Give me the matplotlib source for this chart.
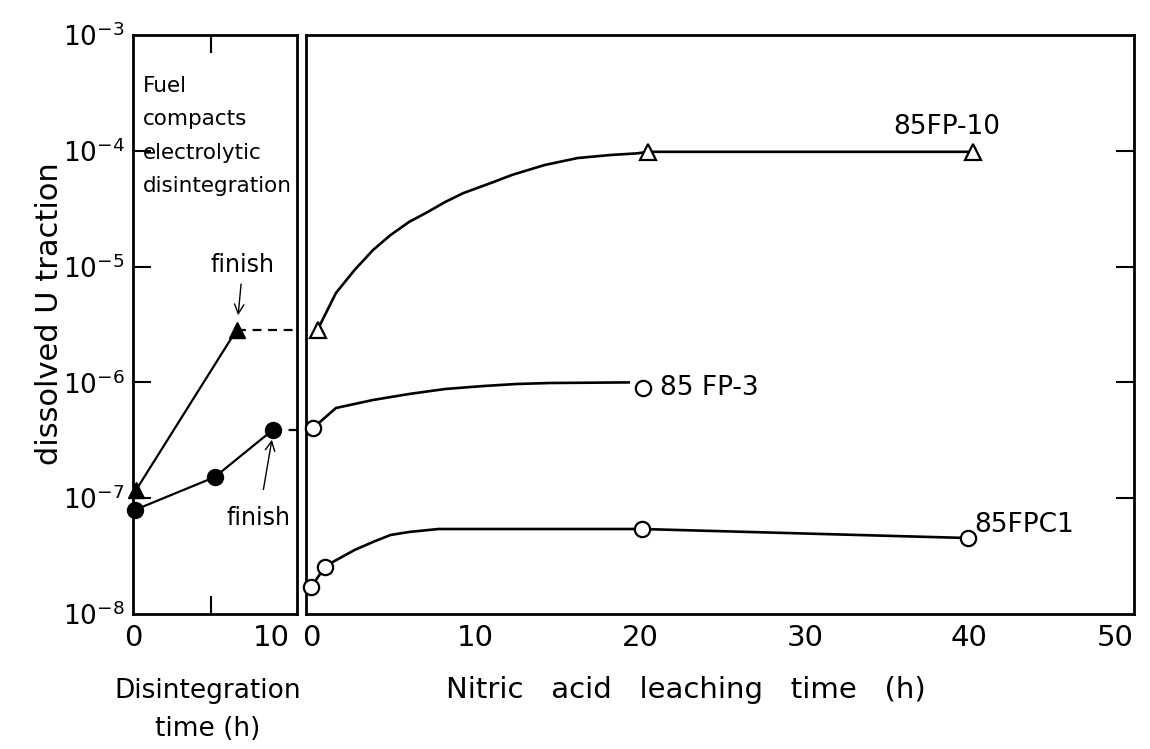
import matplotlib
matplotlib.use("Agg")
import matplotlib.pyplot as plt

plt.rcParams['font.family'] = ['Liberation Sans Narrow', 'DejaVu Sans']

# left panel: electrolytic disintegration (filled symbols)
dis_fp10_t = [0.2, 6.6]
dis_fp10_u = [1.18e-7, 2.84e-6]
dis_fp3_t = [0.1, 5.2, 8.9]
dis_fp3_u = [7.9e-8, 1.52e-7, 3.88e-7]

# right panel: nitric acid leaching (open symbols)
fp10_t = [0.4, 20.5, 40.2]
fp10_u = [2.84e-6, 9.8e-5, 9.8e-5]
fp3_t = [0.13, 20.2]
fp3_u = [4.04e-7, 8.95e-7]
fpc1_t = [0.0, 0.86, 20.1, 39.9]
fpc1_u = [1.71e-8, 2.55e-8, 5.42e-8, 4.53e-8]

# hand drawn guide curves
fp10_curve_t = [0.4, 1.52, 2.65, 3.77, 4.83, 5.96, 7.09, 8.15, 9.27, 11.1, 12.2, 14.2,
                16.2, 18.2, 19.8, 20.5, 40.2]
fp10_curve_u = [2.84e-6, 5.92e-6, 9.35e-6, 1.39e-5, 1.87e-5, 2.43e-5, 2.96e-5, 3.61e-5,
                4.32e-5, 5.38e-5, 6.18e-5, 7.54e-5, 8.66e-5, 9.2e-5, 9.5e-5, 9.8e-5, 9.8e-5]
fp3_curve_t = [0.13, 1.52, 3.77, 5.96, 8.15, 10.5, 12.5, 14.5, 19.3]
fp3_curve_u = [4.04e-7, 6.01e-7, 7.05e-7, 7.94e-7, 8.77e-7, 9.31e-7, 9.69e-7,
               9.88e-7, 1.0e-6]
fpc1_curve_t = [0.0, 0.86, 1.32, 2.65, 3.77, 4.83, 5.96, 7.75, 9.27, 12.5, 20.1, 39.9]
fpc1_curve_u = [1.71e-8, 2.55e-8, 2.81e-8, 3.57e-8, 4.19e-8, 4.81e-8, 5.11e-8, 5.42e-8,
                5.42e-8, 5.42e-8, 5.42e-8, 4.53e-8]

decades = [1e-8, 1e-7, 1e-6, 1e-5, 1e-4, 1e-3]
decade_labels = ['$10^{-8}$', '$10^{-7}$', '$10^{-6}$', '$10^{-5}$', '$10^{-4}$', '$10^{-3}$']

fig = plt.figure(figsize=(11.5, 7.49), dpi=100)
W, H = 1150.0, 749.0
top, bottom = 35, 614
ax1 = fig.add_axes([133 / W, (H - bottom) / H, 164 / W, (bottom - top) / H])
ax2 = fig.add_axes([306 / W, (H - bottom) / H, 828 / W, (bottom - top) / H])

for ax in (ax1, ax2):
    ax.set_yscale('log')
    ax.set_ylim(1e-8, 1e-3)
    ax.minorticks_off()
    for s in ax.spines.values():
        s.set_linewidth(2)

# ---- left panel
ax1.set_xlim(0, 10.45)
ax1.set_xticks([0, 5, 10])
ax1.set_xticklabels(['0', '', '10'])
ax1.set_yticks(decades)
ax1.set_yticklabels(decade_labels)
ax1.tick_params(axis='both', direction='in', length=13, width=1.5, top=True, right=False)
ax1.tick_params(axis='x', pad=7, labelsize=21)
ax1.tick_params(axis='y', pad=6, labelsize=19)
for t in ax1.xaxis.get_major_ticks():
    if t.get_loc() in (0, 10):
        t.tick1line.set_visible(False)
        t.tick2line.set_visible(False)
for t in ax1.yaxis.get_major_ticks():
    if t.get_loc() in (1e-8, 1e-3):
        t.tick1line.set_visible(False)
ax1.get_xticklabels()[2].set_horizontalalignment('right')

ax1.plot(dis_fp10_t, dis_fp10_u, color='black', lw=1.6, marker='^', ms=11,
         clip_on=False, zorder=3)
ax1.plot(dis_fp3_t, dis_fp3_u, color='black', lw=1.6, marker='o', ms=11.5,
         clip_on=False, zorder=3)
ax1.plot([dis_fp10_t[-1], 10.45], [dis_fp10_u[-1], dis_fp10_u[-1]], color='black',
         lw=1.6, ls=(0, (4, 3)))
ax1.plot([dis_fp3_t[-1], 10.45], [dis_fp3_u[-1], dis_fp3_u[-1]], color='black',
         lw=1.6, ls=(0, (4, 3)))

ax1.text(0.06, 0.93, 'Fuel\ncompacts\nelectrolytic\ndisintegration',
         transform=ax1.transAxes, ha='left', va='top', fontsize=15.5, linespacing=1.85)
ax1.annotate('finish', xy=(6.7, 3.8e-6), xytext=(7.0, 1.03e-5), ha='center',
             va='center', fontsize=17,
             arrowprops=dict(arrowstyle='->', lw=1, color='black', shrinkA=3, shrinkB=0))
ax1.annotate('finish', xy=(8.85, 3.2e-7), xytext=(8.0, 6.75e-8), ha='center',
             va='center', fontsize=17,
             arrowprops=dict(arrowstyle='->', lw=1, color='black', shrinkA=10, shrinkB=0))

# ---- right panel
ax2.set_xlim(-0.3, 50)
ax2.set_xticks([0, 10, 20, 30, 40, 50])
ax2.set_yticks(decades[1:-1])
ax2.set_yticklabels([])
ax2.tick_params(axis='both', direction='in', length=13, width=1.5,
                top=True, left=False, right=True, labelleft=False)
ax2.tick_params(axis='x', pad=7, labelsize=21)
for t in ax2.xaxis.get_major_ticks():
    if t.get_loc() in (0, 50):
        t.tick1line.set_visible(False)
        t.tick2line.set_visible(False)
ax2.get_xticklabels()[-1].set_horizontalalignment('right')

for xs, ys in [(fp10_curve_t, fp10_curve_u), (fp3_curve_t, fp3_curve_u),
               (fpc1_curve_t, fpc1_curve_u)]:
    ax2.plot(xs, ys, color='black', lw=1.9, zorder=2, solid_joinstyle='round')
ax2.plot(fp10_t, fp10_u, ls='none', marker='^', ms=11, mfc='white', mec='black',
         mew=1.6, clip_on=False, zorder=3)
ax2.plot(fp3_t, fp3_u, ls='none', marker='o', ms=11, mfc='white', mec='black',
         mew=1.6, clip_on=False, zorder=3)
ax2.plot(fpc1_t, fpc1_u, ls='none', marker='o', ms=11, mfc='white', mec='black',
         mew=1.6, clip_on=False, zorder=3)

ax2.text(35.4, 1.6e-4, '85FP-10', fontsize=19, va='center', ha='left')
ax2.text(21.2, 8.95e-7, '85 FP-3', fontsize=19, va='center', ha='left')
ax2.text(40.3, 5.87e-8, '85FPC1', fontsize=19, va='center', ha='left')

# axis titles
fig.text(208 / W, 1 - 698 / H, 'Disintegration', ha='center', va='baseline', fontsize=19)
fig.text(208 / W, 1 - 736 / H, 'time (h)', ha='center', va='baseline', fontsize=19)
fig.text(686 / W, 1 - 698 / H, 'Nitric   acid   leaching   time   (h)', ha='center',
         va='baseline', fontsize=21)
fig.text(50 / W, 1 - 314 / H, 'dissolved U traction', rotation=90, ha='center',
         va='center', fontsize=22)

fig.savefig('out.png', dpi=100)
